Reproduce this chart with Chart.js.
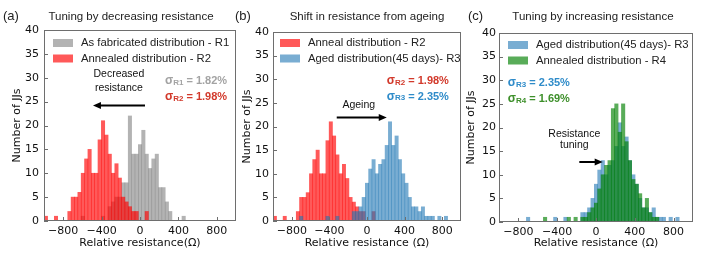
<!DOCTYPE html>
<html>
<head>
<meta charset="utf-8">
<script src="https://cdn.jsdelivr.net/npm/chart.js@4.4.0/dist/chart.umd.min.js"></script>
<style>
  html, body { margin: 0; padding: 0; background: #fff; }
  #wrap { position: relative; width: 706px; height: 256px; overflow: hidden; }
  .panel { position: absolute; top: 0; height: 256px; }
</style>
</head>
<body>
<div id="wrap">
  <div class="panel" style="left:0px"><canvas id="ca" width="240" height="256"></canvas></div>
  <div class="panel" style="left:230px"><canvas id="cb" width="236" height="256"></canvas></div>
  <div class="panel" style="left:456px"><canvas id="cc" width="250" height="256"></canvas></div>
</div>
<script>
// histogram bin centres (Ω), shared by all three panels
const bins = [
  -980, -945, -910, -875, -840, -805, -770, -735, -700, -665,
  -630, -595, -560, -525, -490, -455, -420, -385, -350, -315,
  -280, -245, -210, -175, -140, -105, -70, -35, 0, 35,
  70, 105, 140, 175, 210, 245, 280, 315, 350, 385,
  420, 455, 490, 525, 560, 595, 630, 665, 700, 735,
  770, 805, 840, 875, 910, 945, 980
];

// counts per bin
const asFabR1 = [
  0, 0, 0, 0, 0, 0, 0, 0, 0, 0,
  0, 1, 0, 0, 0, 0, 0, 1, 0, 3,
  4, 5, 5, 8, 8, 22, 14, 14, 16, 19,
  14, 11, 13, 14, 7, 7, 4, 2, 0, 0,
  0, 1, 0, 0, 0, 0, 0, 0, 0, 0,
  0, 0, 0, 0, 0, 0, 0
];
const annealR2 = [
  1, 0, 0, 1, 0, 0, 0, 2, 5, 5,
  6, 10, 13, 15, 10, 10, 17, 21, 18, 14,
  10, 12, 9, 5, 4, 3, 2, 2, 0, 0,
  2, 0, 0, 0, 0, 0, 0, 0, 0, 0,
  0, 0, 0, 0, 0, 0, 0, 0, 0, 0,
  0, 0, 0, 0, 0, 0, 0
];
const agedR3 = [
  0, 0, 0, 0, 0, 0, 0, 0, 1, 0,
  0, 0, 0, 0, 0, 0, 1, 0, 0, 1,
  0, 0, 0, 0, 2, 2, 3, 5, 8, 11,
  13, 10, 12, 13, 16, 21, 16, 18, 13, 10,
  8, 5, 3, 3, 2, 3, 1, 1, 1, 0,
  1, 0, 1, 0, 0, 0, 0
];
const annealR4 = [
  0, 0, 0, 0, 0, 0, 0, 0, 0, 0,
  0, 0, 0, 1, 0, 0, 0, 0, 0, 0,
  1, 0, 1, 0, 1, 1, 2, 3, 4, 7,
  10, 12, 13, 24, 25, 19, 25, 17, 13, 9,
  8, 6, 3, 5, 2, 1, 1, 0, 0, 0,
  0, 0, 0, 0, 0, 0, 0
];

const xTicks = [-800, -400, 0, 400, 800];
const yTicks = [0, 5, 10, 15, 20, 25, 30, 35, 40];

const RED = 'rgba(255, 0, 0, 0.65)';
const GRAY = 'rgba(128, 128, 128, 0.6)';
const BLUE = 'rgba(31, 119, 180, 0.6)';
const GREEN = 'rgba(0, 128, 0, 0.65)';

const tickFont = { family: 'DejaVu Sans', size: 11 };
const axisFont = { family: 'DejaVu Sans', size: 11 };
const textFont = '"Liberation Sans", Arial, sans-serif';

// frame, inside ticks, legend, titles and annotations
const deco = {
  id: 'deco',
  afterDraw(chart, args, o) {
    const { ctx, chartArea: a, scales: { x, y } } = chart;
    const L = Math.round(a.left), R = Math.round(a.right);
    const T = Math.round(a.top), B = Math.round(a.bottom);
    ctx.save();
    ctx.strokeStyle = '#6e6e6e';
    ctx.lineWidth = 1;
    ctx.strokeRect(L + 0.5, T + 0.5, R - L - 1, B - T - 1);
    ctx.beginPath();
    y.ticks.forEach(t => {
      const py = Math.round(y.getPixelForValue(t.value)) + 0.5;
      ctx.moveTo(L, py); ctx.lineTo(L + 4, py);
    });
    x.ticks.forEach(t => {
      const px = Math.round(x.getPixelForValue(t.value)) + 0.5;
      ctx.moveTo(px, B); ctx.lineTo(px, B - 4);
    });
    ctx.stroke();

    // legend, listed bottom dataset first
    ctx.textBaseline = 'middle';
    ctx.textAlign = 'left';
    ctx.font = '11.3px ' + textFont;
    const sets = chart.data.datasets.slice().reverse();
    sets.forEach((ds, i) => {
      const ry = T + o.legTop + i * 15.5;
      ctx.fillStyle = ds.backgroundColor;
      ctx.fillRect(L + o.legX, ry - 4, 20, 8);
      ctx.fillStyle = '#222';
      ctx.fillText(ds.label, L + o.legX + 28, ry);
    });

    ctx.fillStyle = '#222';
    ctx.font = '13px ' + textFont;
    ctx.fillText(o.tag, o.tagX, 16);
    ctx.textAlign = 'center';
    ctx.font = '11.5px ' + textFont;
    ctx.fillText(o.title, (a.left + a.right) / 2 + o.titleDx, 16.5);

    // plain notes
    ctx.fillStyle = '#111';
    ctx.font = '10.5px ' + textFont;
    (o.notes || []).forEach(n => {
      ctx.fillText(n.text, x.getPixelForValue(n.x), y.getPixelForValue(n.y));
    });

    // arrows
    ctx.strokeStyle = '#000';
    ctx.fillStyle = '#000';
    (o.arrows || []).forEach(ar => {
      const x1 = x.getPixelForValue(ar.x1), x2 = x.getPixelForValue(ar.x2);
      const py = y.getPixelForValue(ar.y);
      const dir = Math.sign(x2 - x1);
      ctx.lineWidth = 2;
      ctx.beginPath();
      ctx.moveTo(x1, py); ctx.lineTo(x2 - dir * 6, py);
      ctx.stroke();
      ctx.beginPath();
      ctx.moveTo(x2, py);
      ctx.lineTo(x2 - dir * 8, py - 3.5);
      ctx.lineTo(x2 - dir * 8, py + 3.5);
      ctx.closePath();
      ctx.fill();
    });

    // sigma labels with subscripts
    ctx.textAlign = 'left';
    (o.sigmas || []).forEach(s => {
      let px = x.getPixelForValue(s.x);
      const py = y.getPixelForValue(s.y);
      ctx.fillStyle = s.color;
      ctx.font = 'bold 12px ' + textFont;
      ctx.fillText('\u03c3', px, py);
      px += ctx.measureText('\u03c3').width;
      ctx.font = 'bold 8px ' + textFont;
      ctx.fillText(s.sub, px, py + 1.5);
      px += ctx.measureText(s.sub).width;
      ctx.font = 'bold 11px ' + textFont;
      ctx.fillText(s.val, px, py);
    });
    ctx.restore();
  }
};

function makePanel(id, cfg) {
  return new Chart(document.getElementById(id), {
    type: 'bar',
    data: {
      labels: bins,
      datasets: cfg.sets.map(s => ({
        label: s.label,
        data: s.data,
        backgroundColor: s.color,
        borderWidth: 0,
        grouped: false,
        barPercentage: 1,
        categoryPercentage: 1
      }))
    },
    options: {
      responsive: false,
      animation: false,
      events: [],
      layout: { padding: { top: cfg.top, right: cfg.right, bottom: 0, left: 0 } },
      scales: {
        x: {
          type: 'linear', min: -1000, max: 1000, offset: false,
          afterBuildTicks: s => { s.ticks = xTicks.map(v => ({ value: v })); },
          afterFit: s => { s.height = cfg.xh; },
          grid: { display: false, drawTicks: false },
          border: { display: false },
          ticks: {
            autoSkip: false, maxRotation: 0, padding: 4, color: '#111', font: tickFont,
            callback: v => String(v).replace('-', '\u2212')
          },
          title: { display: true, text: cfg.xTitle, color: '#111', font: axisFont, padding: 6 }
        },
        y: {
          min: 0, max: 40,
          afterBuildTicks: s => { s.ticks = yTicks.map(v => ({ value: v })); },
          afterFit: s => { s.width = cfg.yw; },
          grid: { display: false, drawTicks: false },
          border: { display: false },
          ticks: { autoSkip: false, padding: cfg.ytp, color: '#111', font: tickFont },
          title: { display: true, text: 'Number of JJs', color: '#111', font: axisFont, padding: cfg.ytitle }
        }
      },
      plugins: {
        legend: { display: false },
        tooltip: { enabled: false },
        deco: cfg.deco
      }
    },
    plugins: [deco]
  });
}

makePanel('ca', {
  top: 30, right: 4, xh: 35, yw: 44, ytp: 5, ytitle: 11,
  xTitle: 'Relative resistance(\u03a9)',
  sets: [
    { label: 'Annealed distribution - R2', data: annealR2, color: RED },
    { label: 'As fabricated distribution - R1', data: asFabR1, color: GRAY }
  ],
  deco: {
    tag: '(a)', tagX: 3, title: 'Tuning by decreasing resistance', titleDx: -9,
    legX: 9, legTop: 13,
    notes: [
      { text: 'Decreased', x: -220, y: 30.8 },
      { text: 'resistance', x: -220, y: 27.9 }
    ],
    arrows: [{ x1: 52, x2: -490, y: 24.2 }],
    sigmas: [
      { sub: 'R1', val: ' = 1.82%', x: 260, y: 29.3, color: '#a3a3a3' },
      { sub: 'R2', val: ' = 1.98%', x: 260, y: 26.0, color: '#d2392b' }
    ]
  }
});

makePanel('cb', {
  top: 32, right: 5, xh: 35, yw: 43, ytp: 4, ytitle: 10.5,
  xTitle: 'Relative resistance (\u03a9)',
  sets: [
    { label: 'Aged distribution(45 days)- R3', data: agedR3, color: BLUE },
    { label: 'Anneal distribution - R2', data: annealR2, color: RED }
  ],
  deco: {
    tag: '(b)', tagX: 5, title: 'Shift in resistance from ageing', titleDx: 0,
    legX: 7, legTop: 11,
    notes: [{ text: 'Ageing', x: -88, y: 24.5 }],
    arrows: [{ x1: -322, x2: 210, y: 21.9 }],
    sigmas: [
      { sub: 'R2', val: ' = 1.98%', x: 210, y: 29.6, color: '#d2392b' },
      { sub: 'R3', val: ' = 2.35%', x: 210, y: 26.3, color: '#2e8bc9' }
    ]
  }
});

makePanel('cc', {
  top: 33, right: 13, xh: 34, yw: 43, ytp: 3, ytitle: 8.5,
  xTitle: 'Relative resistance (\u03a9)',
  sets: [
    { label: 'Annealed distribution - R4', data: annealR4, color: GREEN },
    { label: 'Aged distribution(45 days)- R3', data: agedR3, color: BLUE }
  ],
  deco: {
    tag: '(c)', tagX: 12, title: 'Tuning by increasing resistance', titleDx: -3,
    legX: 9, legTop: 12,
    notes: [
      { text: 'Resistance', x: -224, y: 18.7 },
      { text: 'tuning', x: -224, y: 16.2 }
    ],
    arrows: [{ x1: -172, x2: 69, y: 12.7 }],
    sigmas: [
      { sub: 'R3', val: ' = 2.35%', x: -910, y: 29.4, color: '#2e8bc9' },
      { sub: 'R4', val: ' = 1.69%', x: -910, y: 26.0, color: '#3d8f2a' }
    ]
  }
});
</script>
</body>
</html>
